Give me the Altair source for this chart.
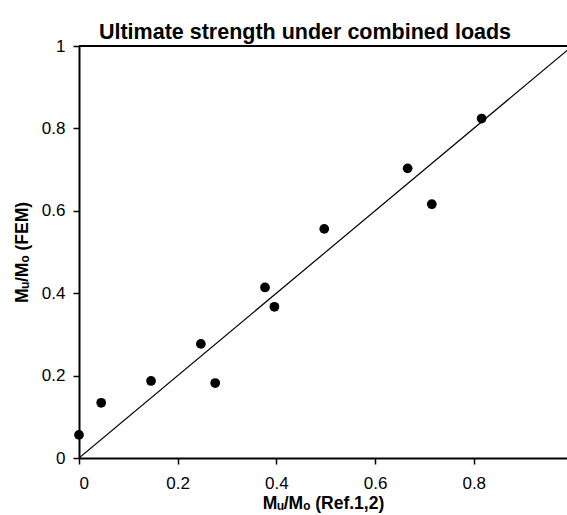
import altair as alt
import pandas as pd

ref_x = [0.0, 0.045, 0.146, 0.247, 0.276, 0.377, 0.396, 0.497, 0.666, 0.715, 0.816]
fem_y = [0.056, 0.134, 0.187, 0.277, 0.182, 0.414, 0.367, 0.556, 0.703, 0.616, 0.824]
line_x = [0.0, 1.0]
line_y = [0.0, 1.0]
x_ticks = [0, 0.2, 0.4, 0.6, 0.8]
y_ticks = [0, 0.2, 0.4, 0.6, 0.8, 1]

pts = pd.DataFrame({"x": ref_x, "y": fem_y})
ln = pd.DataFrame({"x": line_x, "y": line_y})

FONT = "Liberation Sans"

xs = alt.Scale(domain=[0, 0.989], nice=False, zero=False)
ys = alt.Scale(domain=[0, 1], nice=False, zero=False)

xax = alt.Axis(values=x_ticks, title="Mᵤ/Mₒ (Ref.1,2)", grid=False,
               labelExpr="datum.value == 0 ? '0' : format(datum.value, '.1f')")
yax = alt.Axis(values=y_ticks, title="Mᵤ/Mₒ (FEM)", grid=False,
               labelExpr="datum.value == 0 ? '0' : datum.value == 1 ? '1' : format(datum.value, '.1f')")

line = alt.Chart(ln).mark_line(color="black", strokeWidth=1.2, clip=True).encode(
    x=alt.X("x:Q", scale=xs, axis=xax),
    y=alt.Y("y:Q", scale=ys, axis=yax),
)
top_border = alt.Chart(ln).mark_rule(color="black", strokeWidth=2).encode(
    y=alt.Y(datum=1, scale=ys),
)
points = alt.Chart(pts).mark_circle(color="black", opacity=1, size=95).encode(
    x=alt.X("x:Q", scale=xs),
    y=alt.Y("y:Q", scale=ys),
)

chart = (line + top_border + points).properties(
    width=488, height=412,
    autosize=alt.AutoSizeParams(type="none"),
    padding={"left": 79, "top": 46, "right": 0, "bottom": 57},
    title=alt.TitleParams("Ultimate strength under combined loads", font=FONT,
                          fontSize=21.5, fontWeight="bold", color="black",
                          anchor="middle", dx=-18, offset=-6),
).configure_view(stroke="transparent", strokeWidth=0).configure_axis(
    domainColor="black", domainWidth=2, tickColor="black", tickWidth=1.5,
    tickSize=6, labelFont=FONT, labelFontSize=17, labelColor="black",
    titleFont=FONT, titleFontSize=17.5, titleFontWeight="bold", titleColor="black",
).configure_axisX(labelPadding=11, titlePadding=3).configure_axisY(labelPadding=8, titlePadding=10)

chart.save("out.html", embed_options={"renderer": "svg", "actions": False})
